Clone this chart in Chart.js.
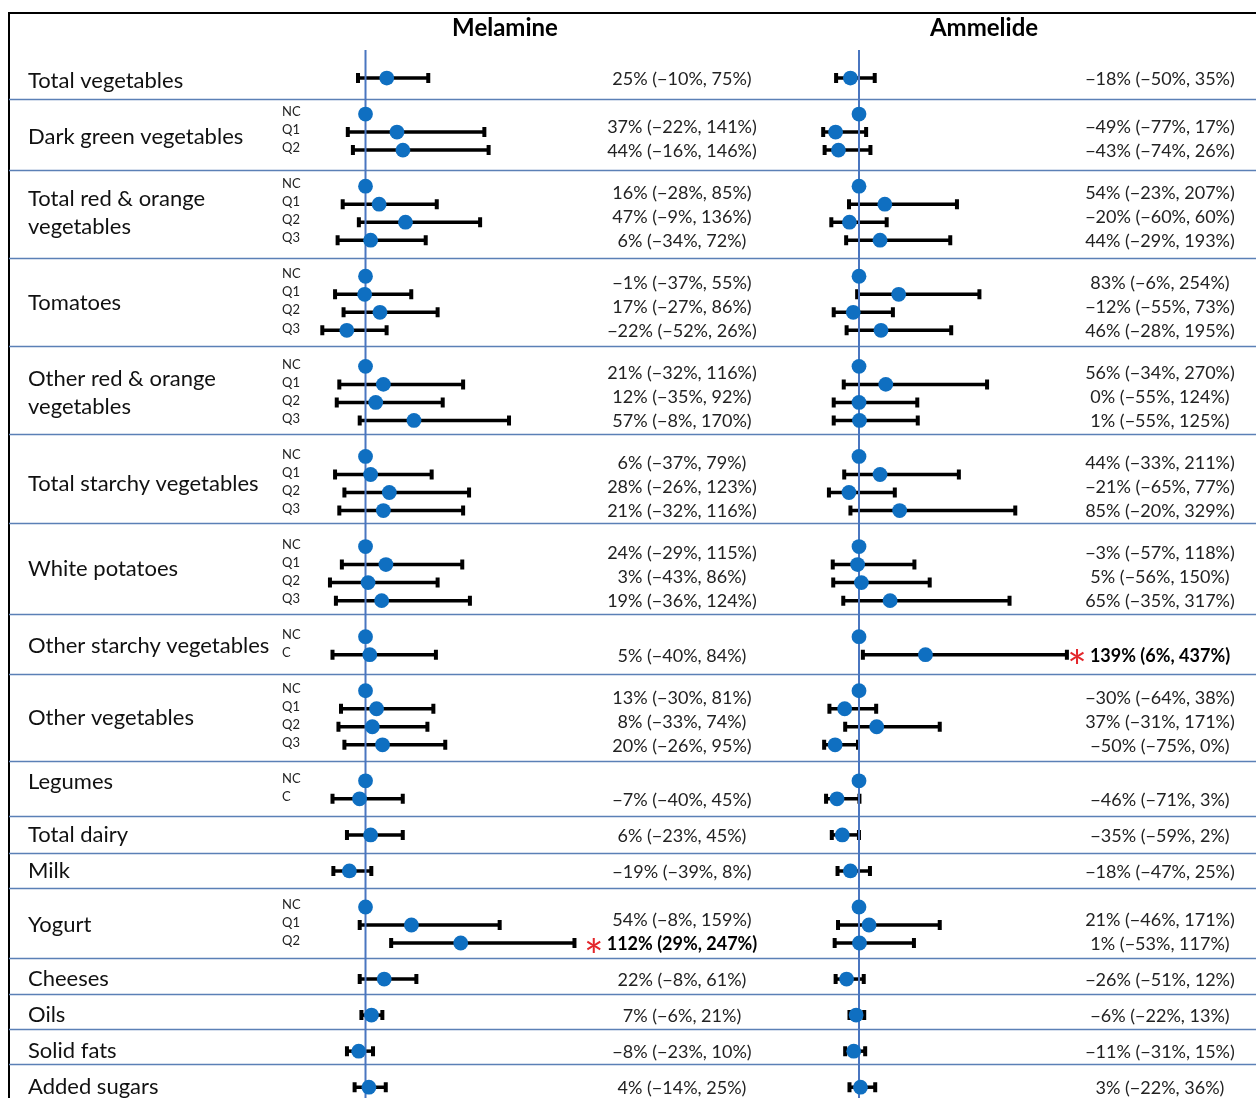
<!DOCTYPE html>
<html>
<head>
<meta charset="utf-8">
<script src="https://cdn.jsdelivr.net/npm/chart.js@4.4.1/dist/chart.umd.min.js"></script>
<style>
  html, body { margin: 0; padding: 0; background: #fff; }
  canvas { display: block; }
</style>
</head>
<body>
<canvas id="forest" width="1256" height="1098"></canvas>
<script>
// Food groups, top to bottom
const groups = [
  "Total vegetables", "Dark green vegetables", "Total red & orange vegetables", "Tomatoes",
  "Other red & orange vegetables", "Total starchy vegetables", "White potatoes",
  "Other starchy vegetables", "Other vegetables", "Legumes", "Total dairy", "Milk",
  "Yogurt", "Cheeses", "Oils", "Solid fats", "Added sugars"
];

// Intake levels inside each group ("NC" = reference level, "" = single row)
const levels = [
  [""], ["NC", "Q1", "Q2"], ["NC", "Q1", "Q2", "Q3"], ["NC", "Q1", "Q2", "Q3"],
  ["NC", "Q1", "Q2", "Q3"], ["NC", "Q1", "Q2", "Q3"], ["NC", "Q1", "Q2", "Q3"],
  ["NC", "C"], ["NC", "Q1", "Q2", "Q3"], ["NC", "C"], [""], [""],
  ["NC", "Q1", "Q2"], [""], [""], [""], [""]
];

// Percent difference with 95% CI, one entry per non-reference row
const melEst  = [25, 37, 44, 16, 47, 6, -1, 17, -22, 21, 12, 57, 6, 28, 21, 24, 3, 19, 5, 13, 8, 20, -7, 6, -19, 54, 112, 22, 7, -8, 4];
const melLow  = [-10, -22, -16, -28, -9, -34, -37, -27, -52, -32, -35, -8, -37, -26, -32, -29, -43, -36, -40, -30, -33, -26, -40, -23, -39, -8, 29, -8, -6, -23, -14];
const melHigh = [75, 141, 146, 85, 136, 72, 55, 86, 26, 116, 92, 170, 79, 123, 116, 115, 86, 124, 84, 81, 74, 95, 45, 45, 8, 159, 247, 61, 21, 10, 25];

const amlEst  = [-18, -49, -43, 54, -20, 44, 83, -12, 46, 56, 0, 1, 44, -21, 85, -3, 5, 65, 139, -30, 37, -50, -46, -35, -18, 21, 1, -26, -6, -11, 3];
const amlLow  = [-50, -77, -74, -23, -60, -29, -6, -55, -28, -34, -55, -55, -33, -65, -20, -57, -56, -35, 6, -64, -31, -75, -71, -59, -47, -46, -53, -51, -22, -31, -22];
const amlHigh = [35, 17, 26, 207, 60, 193, 254, 73, 195, 270, 124, 125, 211, 77, 329, 118, 150, 317, 437, 38, 171, 0, 3, 2, 25, 171, 117, 12, 13, 15, 36];

// Rows flagged as significant (index into the arrays above)
const melSig = [26];
const amlSig = [18];

const panelTitles = ["Melamine", "Ammelide"];

// ---- row layout: one slot per level, one empty slot between groups ----
const rows = [];
const spans = [];
{
  let slot = 0, k = 0;
  groups.forEach((g, gi) => {
    const first = slot;
    levels[gi].forEach(lv => {
      rows.push({ slot, level: lv, k: lv === "NC" ? -1 : k++, gi });
      slot++;
    });
    spans.push({ first, last: slot - 1 });
    slot++;
  });
}

function points(est, lo, hi) {
  return rows.map(r => r.k < 0
    ? { x: 0, y: r.slot }
    : { x: est[r.k], y: r.slot, lo: lo[r.k], hi: hi[r.k] });
}

const FONT = 'Lato, "Open Sans", sans-serif';
const DOT = '#0f6fc1';
const REF = '#4a76c0';
const SEP = '#5b80b6';

// small vertical nudges (px) for a few group names
const nameNudge = { "Total vegetables": 3, "Dark green vegetables": 5, "White potatoes": -5, "Legumes": -8 };
// fine vertical offsets (px) of the rules between groups
const ruleOffsets = [3, 2, 0, -2, -4, -6, -5, 1, -2, -1, 0, -1, -3, -3, -4, -5];

const panels = [
  { axis: 'xM', title: panelTitles[0], titleX: 505, textX: 682, est: melEst, lo: melLow, hi: melHigh, sig: melSig },
  { axis: 'xA', title: panelTitles[1], titleX: 984, textX: 1160, est: amlEst, lo: amlLow, hi: amlHigh, sig: amlSig }
];

const pct = v => (v < 0 ? '\u2212' + Math.abs(v) : String(v)) + '%';

const tablePlugin = {
  id: 'forestTable',
  beforeDatasetsDraw(chart) {
    const ctx = chart.ctx;
    const ys = chart.scales.y;
    ctx.save();

    // frame
    ctx.strokeStyle = '#000';
    ctx.lineWidth = 2;
    ctx.strokeRect(9, 13, 1300, 1200);

    // group separators
    ctx.strokeStyle = SEP;
    ctx.lineWidth = 1.5;
    for (let gi = 0; gi < spans.length - 1; gi++) {
      const y = Math.round(ys.getPixelForValue(spans[gi].last + 1) + ruleOffsets[gi]) + 0.5;
      ctx.beginPath();
      ctx.moveTo(9, y);
      ctx.lineTo(1256, y);
      ctx.stroke();
    }

    // panel titles
    ctx.fillStyle = '#000';
    ctx.textAlign = 'center';
    ctx.textBaseline = 'middle';
    ctx.font = 'bold 24px ' + FONT;
    panels.forEach(p => ctx.fillText(p.title, p.titleX, 28));

    // group names (wrapped before the level column)
    ctx.textAlign = 'left';
    ctx.font = '22px ' + FONT;
    ctx.fillStyle = '#111';
    groups.forEach((g, gi) => {
      const words = g.split(' ');
      const lines = [];
      let cur = '';
      words.forEach(w => {
        const t = cur ? cur + ' ' + w : w;
        if (ctx.measureText(t).width > 248 && cur) { lines.push(cur); cur = w; }
        else cur = t;
      });
      lines.push(cur);
      const c = ys.getPixelForValue((spans[gi].first + spans[gi].last) / 2) + (nameNudge[g] || 0);
      const lh = 28;
      lines.forEach((ln, i) => {
        ctx.fillText(ln, 28, c + (i - (lines.length - 1) / 2) * lh);
      });
    });

    // level labels
    ctx.font = '13px ' + FONT;
    ctx.fillStyle = '#222';
    rows.forEach(r => {
      if (r.level) ctx.fillText(r.level, 282, ys.getPixelForValue(r.slot) - 2);
    });

    // estimate text, bottom-aligned to each group's last row
    ctx.textAlign = 'center';
    panels.forEach(p => {
      spans.forEach((sp, gi) => {
        const ks = rows.filter(r => r.gi === gi && r.k >= 0).map(r => r.k);
        const base = ys.getPixelForValue(sp.last) + 1;
        ks.forEach((k, i) => {
          const y = base - 24 * (ks.length - 1 - i);
          const txt = pct(p.est[k]) + ' (' + pct(p.lo[k]) + ', ' + pct(p.hi[k]) + ')';
          const bold = p.sig.includes(k);
          ctx.font = (bold ? 'bold ' : '') + '18px ' + FONT;
          ctx.fillStyle = bold ? '#000' : '#222';
          ctx.fillText(txt, p.textX, y);
          if (bold) {
            const w = ctx.measureText(txt).width;
            ctx.save();
            ctx.fillStyle = '#e3262b';
            ctx.font = '46px ' + FONT;
            ctx.textAlign = 'center';
            ctx.textBaseline = 'alphabetic';
            const m = ctx.measureText('*');
            const yy = y + 1 + (m.actualBoundingBoxAscent - m.actualBoundingBoxDescent) / 2;
            ctx.fillText('*', p.textX - w / 2 - 13, yy);
            ctx.restore();
          }
        });
      });
    });

    // confidence intervals
    ctx.strokeStyle = '#000';
    panels.forEach((p, di) => {
      const xs = chart.scales[p.axis];
      chart.data.datasets[di].data.forEach(pt => {
        if (pt.lo === undefined) return;
        const y = ys.getPixelForValue(pt.y);
        const x0 = xs.getPixelForValue(pt.lo);
        const x1 = xs.getPixelForValue(pt.hi);
        ctx.lineWidth = 3.5;
        ctx.beginPath();
        ctx.moveTo(x0, y);
        ctx.lineTo(x1, y);
        ctx.stroke();
        ctx.lineWidth = 4;
        ctx.beginPath();
        ctx.moveTo(x0 + 1, y - 5);
        ctx.lineTo(x0 + 1, y + 5);
        ctx.moveTo(x1 - 1, y - 5);
        ctx.lineTo(x1 - 1, y + 5);
        ctx.stroke();
      });
    });

    // no-difference reference lines
    ctx.strokeStyle = REF;
    ctx.lineWidth = 2;
    panels.forEach(p => {
      const x = chart.scales[p.axis].getPixelForValue(0);
      ctx.beginPath();
      ctx.moveTo(x, 50);
      ctx.lineTo(x, 1098);
      ctx.stroke();
    });

    ctx.restore();
  }
};

new Chart(document.getElementById('forest'), {
  type: 'scatter',
  data: {
    datasets: [
      { label: panelTitles[0], xAxisID: 'xM', yAxisID: 'y', data: points(melEst, melLow, melHigh),
        pointRadius: 7.4, pointBackgroundColor: DOT, pointBorderWidth: 0, pointHoverRadius: 7.4 },
      { label: panelTitles[1], xAxisID: 'xA', yAxisID: 'y', data: points(amlEst, amlLow, amlHigh),
        pointRadius: 7.4, pointBackgroundColor: DOT, pointBorderWidth: 0, pointHoverRadius: 7.4 }
    ]
  },
  options: {
    responsive: false,
    animation: false,
    events: [],
    layout: { padding: 0, autoPadding: false },
    plugins: { legend: { display: false }, tooltip: { enabled: false } },
    scales: {
      xM: { type: 'linear', axis: 'x', display: false, min: -430, max: 1047.6 },
      xA: { type: 'linear', axis: 'x', display: false, min: -1797, max: 830.5 },
      y:  { type: 'linear', display: false, reverse: true, min: -4.33, max: 56.6 }
    }
  },
  plugins: [tablePlugin]
});
</script>
</body>
</html>
